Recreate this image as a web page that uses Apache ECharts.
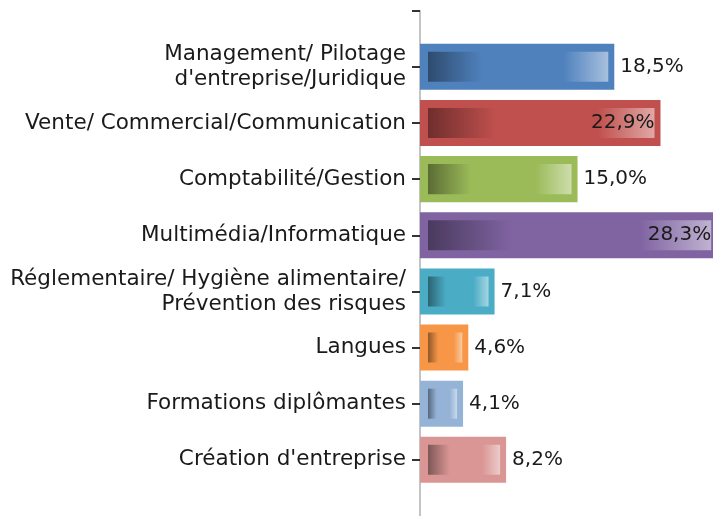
<!DOCTYPE html>
<html>
<head>
<meta charset="utf-8">
<script src="https://cdn.jsdelivr.net/npm/echarts@6/dist/echarts.min.js"></script>
<style>
  html, body { margin: 0; padding: 0; background: #fff; }
  #main { width: 713px; height: 516px; }
</style>
</head>
<body>
<div id="main"></div>
<script>
  // catégories, de haut en bas
  var categories = [
    'Management/ Pilotage\nd\'entreprise/Juridique',
    'Vente/ Commercial/Communication',
    'Comptabilité/Gestion',
    'Multimédia/Informatique',
    'Réglementaire/ Hygiène alimentaire/\nPrévention des risques',
    'Langues',
    'Formations diplômantes',
    'Création d\'entreprise'
  ];
  var values = [18.5, 22.9, 15.0, 28.3, 7.1, 4.6, 4.1, 8.2];
  var barColors = ['#4F81BD', '#C0504D', '#9BBB59', '#8064A2', '#4BACC6', '#F79646', '#95B3D7', '#D99694'];

  // un point vide en haut et en bas pour les graduations de l'axe
  var axisCats = [''].concat(categories, ['']);

  var seriesData = values.map(function (v, i) { return [v, i + 1]; });

  function fmt(v) {
    return v.toFixed(1).replace('.', ',') + '%';
  }

  // mélange d'une couleur hex avec du noir ou du blanc
  function mix(hex, target, t) {
    var n = parseInt(hex.slice(1), 16);
    var c = [(n >> 16) & 255, (n >> 8) & 255, n & 255];
    var out = c.map(function (v) { return Math.round(v + (target - v) * t); });
    return 'rgb(' + out.join(',') + ')';
  }

  function renderItem(params, api) {
    var idx = api.value(1);
    var val = api.value(0);
    var p0 = api.coord([0, idx]);
    var p1 = api.coord([val, idx]);
    var step = Math.abs(api.coord([0, idx + 1])[1] - p0[1]);
    var h = step * 0.82;
    var x0 = p0[0], x1 = p1[0], yc = p0[1];
    var base = barColors[params.dataIndex];
    var dark = mix(base, 0, 0.42);
    var light = mix(base, 255, 0.5);
    var inset = 8;
    var label = fmt(val);
    var inside = x1 + 6 + 62 > api.getWidth();
    return {
      type: 'group',
      children: [
        {
          type: 'rect',
          shape: { x: x0, y: yc - h / 2, width: x1 - x0, height: h },
          style: { fill: base }
        },
        {
          type: 'rect',
          shape: { x: x0 + inset, y: yc - h / 2 + inset, width: Math.max(0, x1 - x0 - inset - 6), height: h - 2 * inset },
          style: {
            fill: new echarts.graphic.LinearGradient(0, 0, 1, 0, [
              { offset: 0, color: dark },
              { offset: 0.3, color: base },
              { offset: 0.75, color: base },
              { offset: 1, color: light }
            ])
          }
        },
        {
          type: 'text',
          z2: 10,
          style: {
            text: label,
            x: inside ? x1 - 6 : x1 + 6,
            y: yc,
            align: inside ? 'right' : 'left',
            verticalAlign: 'middle',
            fill: '#1a1a1a',
            font: '20px "DejaVu Sans"'
          }
        }
      ]
    };
  }

  var chart = echarts.init(document.getElementById('main'));
  chart.setOption({
    animation: false,
    grid: { left: 420, right: 0, top: 10.7, bottom: 0 },
    xAxis: {
      type: 'value',
      min: 0,
      max: 27.9,
      show: false
    },
    yAxis: {
      type: 'category',
      data: axisCats,
      inverse: true,
      boundaryGap: false,
      axisLine: { onZero: false, lineStyle: { color: '#c4c4c4', width: 2 } },
      axisTick: {
        show: true,
        length: 8,
        interval: function (index) { return index < axisCats.length - 1; },
        lineStyle: { color: '#333', width: 2 }
      },
      axisLabel: {
        margin: 14,
        color: '#1a1a1a',
        fontFamily: 'DejaVu Sans',
        fontSize: 21.5,
        lineHeight: 25,
        align: 'right'
      },
      splitLine: { show: false }
    },
    series: [{
      type: 'custom',
      renderItem: renderItem,
      clip: false,
      encode: { x: 0, y: 1 },
      data: seriesData
    }]
  });
</script>
</body>
</html>
